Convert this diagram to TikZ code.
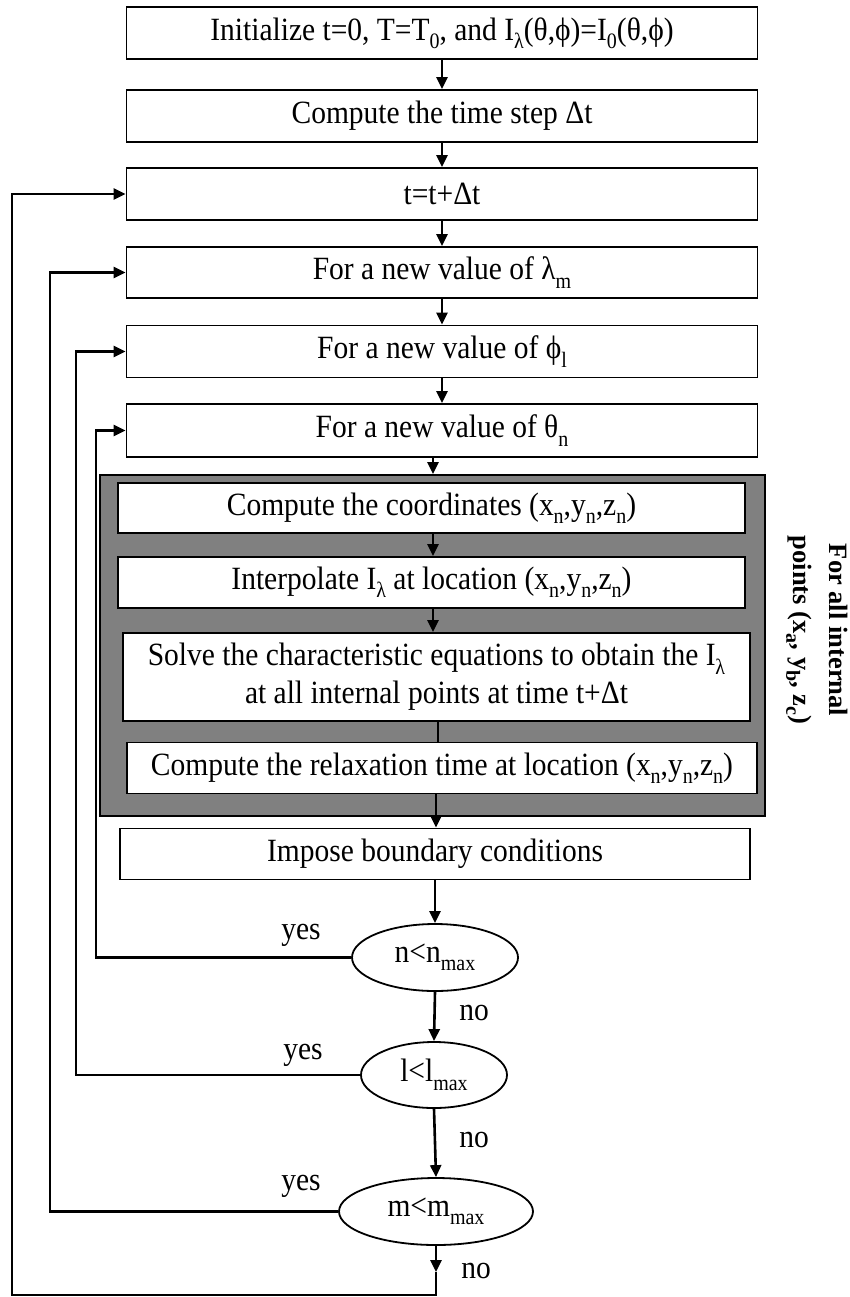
\documentclass[tikz,border=0pt]{standalone}
\usepackage{fontspec}
\usepackage{graphicx}
\setmainfont{Liberation Serif}
\usetikzlibrary{shapes.geometric,arrows.meta}
\newcommand{\sbs}[1]{\raisebox{-0.26em}{\fontsize{20}{22}\selectfont #1}}
\newcommand{\tx}[1]{\scalebox{1}[1.1]{#1}}
\newcommand{\txx}[2]{\scalebox{1}[1.1]{\begin{tabular}{@{}c@{}}#1\\#2\end{tabular}}}
\begin{document}
\begin{tikzpicture}[x=1pt,y=1pt,
  txt/.style={font=\fontsize{29.5}{34}\selectfont},
  box/.style={txt, draw, line width=1.7pt, fill=white, inner sep=0pt, align=center},
  dec/.style={txt, ellipse, draw, line width=1.8pt, fill=white, inner sep=0pt},
  arr/.style={line width=2.6pt, -{Triangle[length=12pt,width=11pt]}},
  ln/.style={line width=2.6pt}]
\useasboundingbox (0,0) rectangle (850,-1297);

% top boxes
\node[box, minimum width=631pt, minimum height=52pt] (b1) at (442,-33) {\tx{Initialize t=0, T=T\sbs{0}, and I\sbs{λ}(θ,ϕ)=I\sbs{0}(θ,ϕ)}};
\node[box, minimum width=631pt, minimum height=52pt] (b2) at (442,-116) {\tx{Compute the time step Δt}};
\node[box, minimum width=631pt, minimum height=52pt] (b3) at (442,-194) {\tx{t=t+Δt}};
\node[box, minimum width=631pt, minimum height=51pt] (b4) at (442,-272.5) {\tx{For a new value of λ\sbs{m}}};
\node[box, minimum width=631pt, minimum height=52pt] (b5) at (442,-351.5) {\tx{For a new value of ϕ\sbs{l}}};
\node[box, minimum width=631pt, minimum height=53pt] (b6) at (442,-430.5) {\tx{For a new value of θ\sbs{n}}};

% gray block
\node[draw, line width=1.8pt, fill=black!50, minimum width=665pt, minimum height=341pt, inner sep=0pt] (g) at (432.5,-645.5) {};
\node[box, minimum width=627pt, minimum height=50pt] (c1) at (431.5,-508) {\tx{Compute the coordinates (x\sbs{n},y\sbs{n},z\sbs{n})}};
\node[box, minimum width=627pt, minimum height=51pt] (c2) at (431.5,-582.5) {\tx{Interpolate I\sbs{λ} at location (x\sbs{n},y\sbs{n},z\sbs{n})}};
\node[box, minimum width=627pt, minimum height=88pt] (c3) at (436.5,-677) {\txx{Solve the characteristic equations to obtain the I\sbs{λ}}{at all internal points at time t+Δt}};
\node[box, minimum width=630pt, minimum height=51pt] (c4) at (442,-768) {\tx{Compute the relaxation time at location (x\sbs{n},y\sbs{n},z\sbs{n})}};

\node[font=\fontsize{26.5}{36}\selectfont\bfseries, rotate=-90, align=center] (lab) at (817,-630) {For all internal\\points (x\sbs{a}, y\sbs{b}, z\sbs{c})};

\node[box, minimum width=630pt, minimum height=51pt] (imp) at (435,-854) {\tx{Impose boundary conditions}};

% decisions
\node[dec, minimum width=166pt, minimum height=67pt] (dn) at (435,-957.5) {\tx{n<n\sbs{max}}};
\node[dec, minimum width=146pt, minimum height=66pt] (dl) at (434,-1075) {\tx{l<l\sbs{max}}};
\node[dec, minimum width=194pt, minimum height=67pt] (dm) at (436,-1211.5) {\tx{m<m\sbs{max}}};

% labels
\node[txt] (y1) at (301,-935) {\tx{yes}};
\node[txt] (y2) at (303,-1055) {\tx{yes}};
\node[txt] (y3) at (301,-1186) {\tx{yes}};
\node[txt] (n1) at (474,-1013) {\tx{no}};
\node[txt] (n2) at (474,-1140) {\tx{no}};
\node[txt] (n3) at (476,-1271) {\tx{no}};

% coordinates for the loops
\coordinate (xa) at (442,0);
\coordinate (xb) at (433,0);
\coordinate (xc) at (438,0);
\coordinate (xd) at (436,0);
\coordinate (l1) at (96,0);
\coordinate (l2) at (76,0);
\coordinate (l3) at (50,0);
\coordinate (l4) at (12,0);
\coordinate (mt) at (436,-1272);
\coordinate (mb) at (436,-1295);

% main flow
\draw[arr] (b1.south -| xa) -- (b2.north -| xa);
\draw[arr] (b2.south -| xa) -- (b3.north -| xa);
\draw[arr] (b3.south -| xa) -- (b4.north -| xa);
\draw[arr] (b4.south -| xa) -- (b5.north -| xa);
\draw[arr] (b5.south -| xa) -- (b6.north -| xa);
\draw[arr] (b6.south -| xb) -- (g.north -| xb);
\draw[arr] (c1.south -| xb) -- (c2.north -| xb);
\draw[arr] (c2.south -| xb) -- (c3.north -| xb);
\draw[ln] (c3.south -| xc) -- (c4.north -| xc);
\draw[arr] (c4.south -| xd) -- (imp.north -| xd);
\draw[arr] (imp.south -| dn) -- (dn.north);
\draw[arr] (dn.south) -- (dl.north);
\draw[arr] (dl.south) -- (dm.north);
\draw[arr] (dm.south) -- (mt);

% loops
\draw[arr] (dn.west) -| (b6.west -| l1) -- (b6.west);
\draw[arr] (dl.west) -| (b5.west -| l2) -- (b5.west);
\draw[arr] (dm.west) -| (b4.west -| l3) -- (b4.west);
\draw[arr] (mt) -- (mb) -| (b3.west -| l4) -- (b3.west);
\end{tikzpicture}
\end{document}
